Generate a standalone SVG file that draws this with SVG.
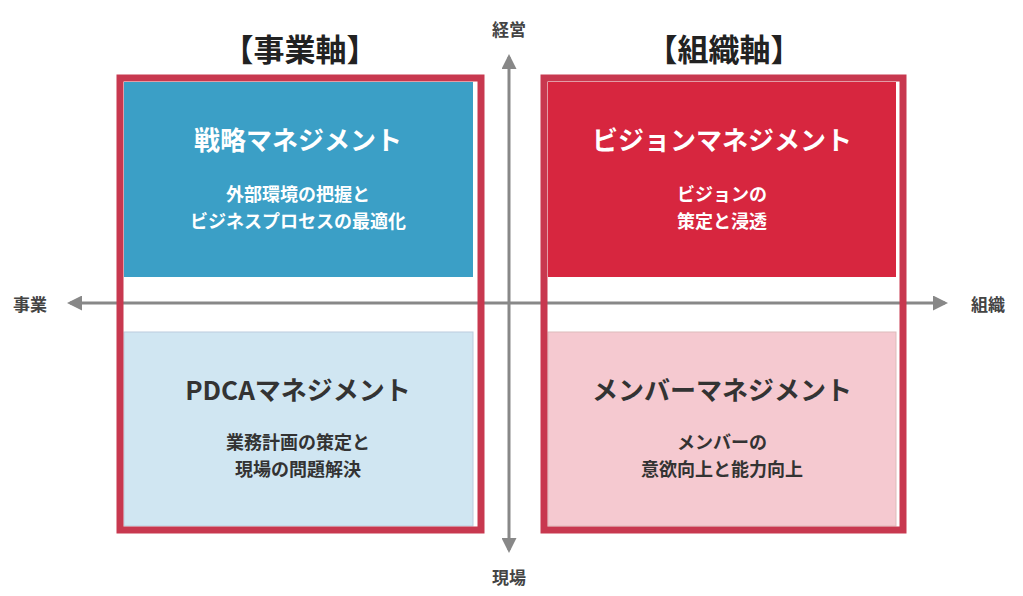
<svg xmlns="http://www.w3.org/2000/svg" width="1023" height="596" viewBox="0 0 1023 596">
<style>
text{font-family:"Noto Sans CJK JP","Noto Sans",sans-serif;text-anchor:middle;dominant-baseline:central}
.frame{fill:none;stroke:#c8384f;stroke-width:7}
.t{font-size:26px;font-weight:bold}
.s{font-size:18px;font-weight:bold}
.w{fill:#fff}.d{fill:#333}
.ax{stroke:#888;stroke-width:3;fill:none}
.lab{font-size:17px;fill:#444;font-weight:bold}
.hd{font-size:31px;font-weight:bold;fill:#222}
</style>
<defs><marker id="ah" viewBox="0 0 10 10" refX="8" refY="5" markerWidth="5" markerHeight="5" orient="auto-start-reverse"><path d="M0,0L10,5L0,10z" fill="#888"/></marker></defs>
<rect width="1023" height="596" fill="#fff"/>
<g id="connectors">
<line class="ax" x1="70" y1="303" x2="945" y2="303" marker-start="url(#ah)" marker-end="url(#ah)"/>
<line class="ax" x1="509" y1="57" x2="509" y2="550" marker-start="url(#ah)" marker-end="url(#ah)"/>
</g>
<g id="labels">
<text class="lab" x="509" y="28">経営</text>
<text class="lab" x="509" y="576">現場</text>
<text class="lab" x="30" y="303">事業</text>
<text class="lab" x="988" y="303">組織</text>
<text class="hd" x="300" y="47">【事業軸】</text>
<text class="hd" x="724" y="47">【組織軸】</text>
</g>
<g id="n1"><rect x="124" y="82" width="349" height="195" fill="#3b9fc6"/>
<text class="t w" x="298" y="138">戦略マネジメント</text>
<text class="s w" x="298" y="193">外部環境の把握と</text><text class="s w" x="298" y="220">ビジネスプロセスの最適化</text></g>
<g id="n2"><rect x="124" y="332" width="349" height="194" fill="#d0e6f2" stroke="#bcd" stroke-width="1"/>
<text class="t d" x="298" y="388">PDCAマネジメント</text>
<text class="s d" x="298" y="441">業務計画の策定と</text><text class="s d" x="298" y="468">現場の問題解決</text></g>
<g id="n3"><rect x="548" y="82" width="348" height="195" fill="#d7263f"/>
<text class="t w" x="722" y="138">ビジョンマネジメント</text>
<text class="s w" x="722" y="193">ビジョンの</text><text class="s w" x="722" y="220">策定と浸透</text></g>
<g id="n4"><rect x="548" y="332" width="348" height="194" fill="#f5c9d0" stroke="#dbb" stroke-width="1"/>
<text class="t d" x="722" y="388">メンバーマネジメント</text>
<text class="s d" x="722" y="441">メンバーの</text><text class="s d" x="722" y="468">意欲向上と能力向上</text></g>
<g id="frames">
<rect class="frame" x="120" y="78" width="361" height="452"/>
<rect class="frame" x="544" y="78" width="359" height="452"/>
</g>
</svg>
